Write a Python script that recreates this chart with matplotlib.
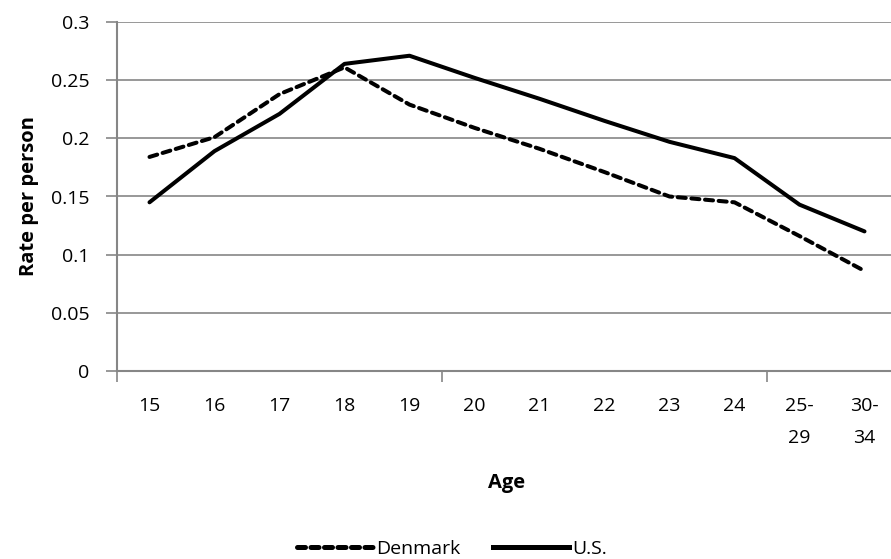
import matplotlib
matplotlib.use("Agg")
import matplotlib.pyplot as plt
from matplotlib.lines import Line2D

# data
ages = ["15", "16", "17", "18", "19", "20", "21", "22", "23", "24", "25-\n29", "30-\n34"]
denmark = [0.184, 0.201, 0.238, 0.261, 0.229, 0.209, 0.191, 0.171, 0.150, 0.145, 0.116, 0.086]
us = [0.145, 0.189, 0.221, 0.264, 0.271, 0.252, 0.234, 0.215, 0.197, 0.183, 0.143, 0.120]
yticks = [0, 0.05, 0.1, 0.15, 0.2, 0.25, 0.3]

grey = "#868686"
font = ["Open Sans", "DejaVu Sans"]
dash = (0, (2.0, 1.4))

fig = plt.figure(figsize=(8.91, 5.59), dpi=100)
ax = fig.add_axes([117 / 891, 1 - 371 / 559, 780 / 891, 349 / 559])

x = list(range(len(ages)))
ax.plot(x, denmark, color="black", lw=2.9, linestyle=dash,
        dash_capstyle="round", label="Denmark")
ax.plot(x, us, color="black", lw=2.9, solid_capstyle="round", label="U.S.")

ax.set_xlim(-0.5, len(ages) - 0.5)
ax.set_ylim(0, 0.3)

# y axis
ax.set_yticks(yticks)
ax.set_yticklabels(["0", "0.05", "0.1", "0.15", "0.2", "0.25", "0.3"],
                   family=font, fontsize=14)
ax.yaxis.grid(True, color=grey, lw=1.2)
ax.set_axisbelow(True)

# x axis: labels at category centres, ticks every 5 categories on boundaries
ax.set_xticks(x)
ax.set_xticklabels(ages, family=font, fontsize=14, linespacing=1.95, va="top")
ax.tick_params(axis="x", which="major", length=0, pad=19)
ax.set_xticks([-0.5, 4.5, 9.5], minor=True)
ax.tick_params(axis="x", which="minor", length=8, color=grey, width=1.2)
ax.tick_params(axis="y", length=8, color=grey, width=1.2, pad=12)

for side in ["top", "right"]:
    ax.spines[side].set_visible(False)
for side in ["left", "bottom"]:
    ax.spines[side].set_color(grey)
    ax.spines[side].set_linewidth(1.5)

ax.set_ylabel("Rate per person", fontsize=14.5, fontweight="bold",
              family=font, labelpad=8)
ax.set_xlabel("Age", fontsize=14.5, fontweight="bold",
              family=font, labelpad=19)

handles = [
    Line2D([], [], color="black", lw=3.6, linestyle=(0, (1.6, 1.1)), dash_capstyle="round"),
    Line2D([], [], color="black", lw=3.6),
]
fig.legend(handles, ["Denmark", "U.S."], loc="center",
           bbox_to_anchor=(452 / 891, 1 - 549 / 559), ncol=2,
           frameon=False, handlelength=3.9, handletextpad=0.15, columnspacing=1.7,
           prop={"family": font, "size": 14})

fig.savefig("out.png", dpi=100)
